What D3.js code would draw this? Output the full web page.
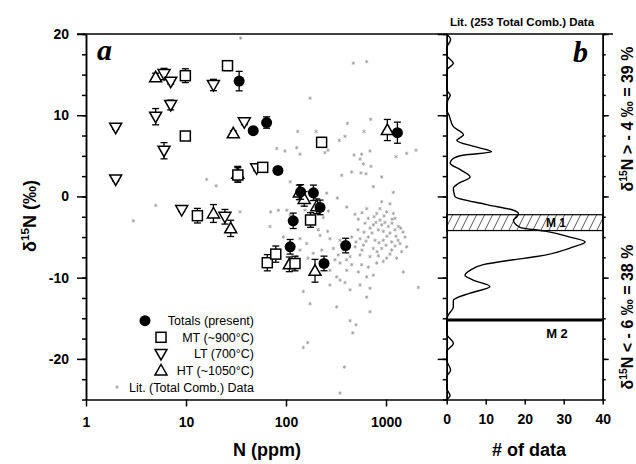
<!DOCTYPE html>
<html>
<head>
<meta charset="utf-8">
<script src="https://d3js.org/d3.v7.min.js"></script>
<style>
  body { margin: 0; background: #fff; }
  svg text { font-family: "Liberation Sans", Arial, sans-serif; fill: #000; }
  .ax path, .ax line { stroke: #000; stroke-width: 1.5; fill: none; }
  .ax text { font-weight: bold; font-size: 14px; }
</style>
</head>
<body>
<svg id="chart" width="636" height="464"></svg>
<script>
// series: [N (ppm), d15N (permil), error]
var totals = [[34,14.2,1.2],[64,9.1,0.7],[47,8.1,0.3],[1300,7.85,1.3],[83,3.2,0.4],[140,0.55,0.9],
  [188,0.45,0.95],[219,-1.35,0.9],[118,-3.0,0.95],[110,-6.2,0.9],[395,-6.05,0.9],[240,-8.25,0.9]];
var mt = [[9.85,14.87,0.85],[26,16.1,0.6],[9.85,7.44,0.2],[58.5,3.58,0.3],[33,2.64,0.9],[13,-2.37,0.9],
  [176,-2.9,0.9],[65,-8.16,1.0],[79,-7.1,1.0],[123,-8.26,0.9],[227,6.66,0.6]];
var lt = [[1.98,8.46,0.2],[4.97,9.82,1.0],[7.03,11.26,0.6],[6.03,15.07,0.7],[7.03,14.13,0.3],[6.03,5.63,1.0],
  [18.8,13.72,0.7],[1.98,2.1,0.2],[9.06,-1.67,0.2],[38.3,9.13,0.3],[50.9,3.46,0.3],[24.5,-2.5,0.9]];
var ht = [[4.97,14.67,0.5],[29.7,7.77,0.3],[1031,8.18,1.3],[32.9,2.8,0.9],[18.8,-2.1,1.1],[28,-3.93,1.0],
  [108,-8.36,0.9],[195,-9.15,1.4],[136,0.5,0.9],[152,-0.3,0.9],[203,-1.2,0.9]];

// literature (total combustion) data: [N, d15N]
var lit = [[35.2,19.5],[471,16.4],[641,16.6],[174,12.1],[410,9.0],[703,9.5],[131,8.0],[200,8.0],[389,7.4],[603,8.0],
  [341,6.9],[80.7,5.9],[97.7,5.6],[128,6.0],[138,5.2],[245,5.4],[479,5.1],[571,5.2],[692,5.6],[1259,4.9],
  [1611,5.3],[1995,5.7],[263,5.7],[550,4.6],[593,4.0],[708,3.7],[454,3.0],[562,2.9],[631,2.8],[361,2.6],
  [110,1.8],[746,1.2],[1183,0.5],[255,0.4],[326,-0.2],[16.1,2.1],[20,1.3],[906,2.4],[906,-0.65],[1096,-0.9],
  [405,-1.3],[641,-1.5],[871,-1.5],[102,-1.7],[265,-1.8],[155,-1.7],[807,-2.1],[1016,-1.9],[1183,-2.1],[236,-2.6],
  [528,-2.8],[665,-2.7],[871,-2.9],[1230,-2.7],[617,-3.3],[746,-3.5],[906,-3.5],[1054,-3.7],[1327,-3.7],[692,-3.9],
  [837,-4.1],[940,-4.3],[1096,-4.5],[1230,-4.1],[1403,-3.9],[1549,-5.0],[219,-4.8],[275,-5.2],[347,-5.4],[454,-5.0],
  [550,-5.2],[665,-5.0],[776,-5.4],[940,-5.4],[1140,-5.6],[1380,-5.8],[1611,-6.2],[94,-5.0],[161,-5.8],[297,-6.4],
  [490,-6.2],[593,-6.0],[746,-6.4],[906,-6.4],[1140,-6.6],[1435,-6.8],[138,-6.6],[187,-7.0],[333,-7.2],[437,-7.4],
  [550,-7.2],[692,-7.4],[837,-7.3],[1016,-7.6],[1279,-7.6],[34.7,-1.9],[70.3,-1.9],[83.8,-1.7],[110,-2.3],[69.2,-3.7],
  [138,-5.2],[128,-7.4],[210,-4.1],[261,-4.3],[228,-6.6],[166,-7.6],[309,-7.8],[405,-7.8],[347,-8.2],[454,-8.4],
  [571,-8.4],[665,-8.7],[807,-8.2],[940,-8.0],[275,-9.1],[405,-9.1],[528,-9.3],[1489,-9.3],[641,-9.9],[746,-9.7],
  [347,-10.3],[389,-10.6],[275,-10.9],[550,-10.9],[437,-11.5],[692,-11.3],[2104,-11.2],[149,-11.7],[174,-13.2],[321,-13.6],
  [692,-14.2],[437,-15.3],[501,-15.8],[465,-16.8],[149,-18.6],[165,-18.0],[383,-21.0],[347,-24.2],[641,-12.4],[321,-9.9],
  [2.97,-3.0],[4.98,-1.1],[794,-3.2],[977,-3.2],[1148,-3.3],[724,-4.5],[1023,-4.9],[1259,-4.9],[851,-5.7],[1000,-6.0],
  [1230,-6.1],[631,-5.5],[501,-5.6],[575,-6.6],[813,-6.8],[1096,-7.1],[1318,-5.4],[1479,-4.4],[525,-4.1],[603,-4.4],
  [417,-6.0],[372,-6.6],[955,-2.4],[1148,-2.8],[759,-2.5],[575,-2.0],[490,-2.2]];

// panel b: smoothed frequency curve of the literature data
var histDelta = [20,19.3,18.3,17.4,16.4,15.6,15.0,13.1,12.5,11.7,10.6,10.0,8.6,7.6,6.9,6.1,5.5,5.1,4.6,4.1,
  3.3,2.4,1.6,1.0,0.0,-1.0,-1.7,-2.1,-2.5,-2.9,-3.8,-4.3,-5.0,-5.6,-6.2,-7.4,-7.8,-8.4,-9.1,-9.7,
  -10.3,-11.1,-11.9,-12.8,-13.6,-14.6,-15.2,-16.9,-18.1,-19.1,-20.1,-21.4,-22.2,-23.6,-24.5,-25];
var histCount = [0,1.0,0,0,1.7,0.1,0,0,0.9,0.2,0,0.6,1.7,4.3,2.6,7.5,11.5,4.5,1.5,0.9,
  3.5,6.0,3.0,1.7,2.1,10.3,17.1,18.4,18.0,17.1,18.8,25.6,31.6,35.5,32.5,23.1,17.1,9.4,6.0,4.7,
  6.8,11.1,6.0,1.7,1.7,0.4,0,0,1.7,0,0,1.0,0,0,0.85,0];

var m1Band = [-2.25, -4.2];
var m2Level = -15.2;
var yMajor = [-20, -10, 0, 10, 20];
var xMajorA = [1, 10, 100, 1000];
var xMajorB = [0, 10, 20, 30, 40];

var svg = d3.select("#chart");
var xA = d3.scaleLog().domain([1, 4045]).range([86, 446.7]);
var xB = d3.scaleLinear().domain([0, 40]).range([446.7, 602.7]);
var y = d3.scaleLinear().domain([-25, 20]).range([399.5, 34]);
var minor = d3.range(-25, 20.01, 2.5);
var fmt = function(d) { return String(d); };

// hatch pattern for M1
var defs = svg.append("defs");
defs.append("pattern").attr("id", "hatch").attr("patternUnits", "userSpaceOnUse")
  .attr("width", 8).attr("height", 16)
  .append("path").attr("d", "M-1,2 L1,-2 M0,16 L8,0 M7,18 L9,14")
  .attr("stroke", "#444").attr("stroke-width", 0.9);

// literature points
var star = d3.symbol().type(d3.symbolAsterisk).size(9);
svg.append("g").selectAll("path").data(lit).enter().append("path")
  .attr("d", star)
  .attr("transform", function(d) { return "translate(" + xA(d[0]) + "," + y(d[1]) + ")"; })
  .attr("fill", "none").attr("stroke", "#9a9a9a").attr("stroke-width", 0.8);

// error bars + markers
function errBars(data) {
  var g = svg.append("g").attr("stroke", "#000").attr("stroke-width", 1.3);
  data.forEach(function(d) {
    var x = xA(d[0]), y0 = y(d[1] - d[2]), y1 = y(d[1] + d[2]);
    g.append("line").attr("x1", x).attr("x2", x).attr("y1", y0).attr("y2", y1);
    g.append("line").attr("x1", x - 3.5).attr("x2", x + 3.5).attr("y1", y0).attr("y2", y0);
    g.append("line").attr("x1", x - 3.5).attr("x2", x + 3.5).attr("y1", y1).attr("y2", y1);
  });
}
function triPath(x, yy, up) {
  return up ? "M" + (x - 6) + "," + (yy + 4.5) + "L" + (x + 6) + "," + (yy + 4.5) + "L" + x + "," + (yy - 6) + "Z"
            : "M" + (x - 6) + "," + (yy - 4.5) + "L" + (x + 6) + "," + (yy - 4.5) + "L" + x + "," + (yy + 6) + "Z";
}
function drawMarker(g, type, x, yy) {
  if (type === "circle") g.append("circle").attr("cx", x).attr("cy", yy).attr("r", 5.5).attr("fill", "#000");
  else if (type === "square") g.append("rect").attr("x", x - 5).attr("y", yy - 5).attr("width", 10).attr("height", 10)
    .attr("fill", "#fff").attr("stroke", "#000").attr("stroke-width", 1.5);
  else g.append("path").attr("d", triPath(x, yy, type === "up"))
    .attr("fill", "#fff").attr("stroke", "#000").attr("stroke-width", 1.5);
}
[[ht, "up"], [lt, "down"], [mt, "square"], [totals, "circle"]].forEach(function(s) {
  errBars(s[0]);
  var g = svg.append("g");
  s[0].forEach(function(d) { drawMarker(g, s[1], xA(d[0]), y(d[1])); });
});

// panel b: M1 band, M2 line, curve
svg.append("rect").attr("x", xB(0)).attr("width", xB(40) - xB(0))
  .attr("y", y(m1Band[0])).attr("height", y(m1Band[1]) - y(m1Band[0]))
  .attr("fill", "url(#hatch)").attr("stroke", "#000").attr("stroke-width", 1.2);
svg.append("line").attr("x1", xB(0)).attr("x2", xB(40)).attr("y1", y(m2Level)).attr("y2", y(m2Level))
  .attr("stroke", "#000").attr("stroke-width", 3);
var curve = d3.line().x(function(d, i) { return xB(histCount[i]); }).y(function(d) { return y(d); })
  .curve(d3.curveMonotoneY);
svg.append("path").attr("d", curve(histDelta)).attr("fill", "none").attr("stroke", "#000").attr("stroke-width", 1.4);
svg.append("text").attr("x", 556).attr("y", 227).attr("text-anchor", "middle")
  .style("font-weight", "bold").style("font-size", "12px").text("M 1");
svg.append("text").attr("x", 557).attr("y", 338).attr("text-anchor", "middle")
  .style("font-weight", "bold").style("font-size", "13px").text("M 2");

// axes
function yAxis(x, axisFn, majSize, minSize, labels) {
  svg.append("g").attr("class", "ax").attr("transform", "translate(" + x + ",0)")
    .call(axisFn(y).tickValues(minor).tickSize(minSize).tickSizeOuter(0).tickFormat(""));
  svg.append("g").attr("class", "ax").attr("transform", "translate(" + x + ",0)")
    .call(axisFn(y).tickValues(yMajor).tickSize(majSize).tickSizeOuter(0).tickPadding(8)
      .tickFormat(labels ? fmt : ""));
}
yAxis(86, d3.axisLeft, 9, 4, true);
yAxis(446.7, d3.axisLeft, 9, 4, false);
yAxis(602.7, d3.axisRight, 6, 3, false);
svg.append("g").attr("class", "ax").attr("transform", "translate(0,399.5)")
  .call(d3.axisBottom(xA).tickValues(xMajorA).tickSize(7).tickPadding(11).tickSizeOuter(0).tickFormat(fmt));
svg.append("g").attr("class", "ax").attr("transform", "translate(0,399.5)")
  .call(d3.axisBottom(xB).tickValues(xMajorB).tickSize(5).tickPadding(10).tickSizeOuter(0).tickFormat(fmt));
svg.append("line").attr("x1", 77).attr("x2", 613).attr("y1", 34).attr("y2", 34)
  .attr("stroke", "#000").attr("stroke-width", 1.6);

// legend
var legend = [
  {label: "Totals (present)", type: "circle", mx: 145},
  {label: "MT (~900°C)", type: "square", mx: 161},
  {label: "LT (700°C)", type: "down", mx: 161},
  {label: "HT (~1050°C)", type: "up", mx: 161},
  {label: "Lit. (Total Comb.) Data", type: "lit", mx: 117}
];
var lg = svg.append("g");
legend.forEach(function(d, i) {
  var ly = 320.7 + i * 16.6;
  if (d.type === "lit") lg.append("path").attr("d", star).attr("transform", "translate(" + d.mx + "," + ly + ")")
    .attr("fill", "none").attr("stroke", "#9a9a9a").attr("stroke-width", 0.8);
  else drawMarker(lg, d.type, d.mx, ly);
  lg.append("text").attr("x", 254).attr("y", ly + 4.5).attr("text-anchor", "end")
    .style("font-size", "12.5px").text(d.label);
});

// labels
svg.append("text").attr("x", 97).attr("y", 60).style("font-family", "'Liberation Serif', 'Times New Roman', serif")
  .style("font-style", "italic").style("font-weight", "bold").style("font-size", "30px").text("a");
svg.append("text").attr("x", 573).attr("y", 62).style("font-family", "'Liberation Serif', 'Times New Roman', serif")
  .style("font-style", "italic").style("font-weight", "bold").style("font-size", "30px").text("b");
svg.append("text").attr("x", 522).attr("y", 26).attr("text-anchor", "middle")
  .style("font-weight", "bold").style("font-size", "11.5px").text("Lit. (253 Total Comb.) Data");
svg.append("text").attr("x", 267).attr("y", 456).attr("text-anchor", "middle")
  .style("font-weight", "bold").style("font-size", "18px").text("N (ppm)");
svg.append("text").attr("x", 529).attr("y", 456).attr("text-anchor", "middle")
  .style("font-weight", "bold").style("font-size", "18px").text("# of data");

function deltaLabel(x, yc, size, rest) {
  var t = svg.append("text").attr("transform", "translate(" + x + "," + yc + ") rotate(-90)")
    .attr("text-anchor", "middle").style("font-weight", "bold").style("font-size", size + "px");
  t.append("tspan").text("δ");
  t.append("tspan").attr("dy", -size * 0.4).style("font-size", (size * 0.65) + "px").text("15");
  t.append("tspan").attr("dy", size * 0.4).text(rest);
}
deltaLabel(36, 216, 18, "N (‰)");
deltaLabel(633, 119, 16, "N > - 4 ‰ = 39 %");
deltaLabel(633, 317, 16, "N < - 6 ‰ = 38 %");
</script>
</body>
</html>
